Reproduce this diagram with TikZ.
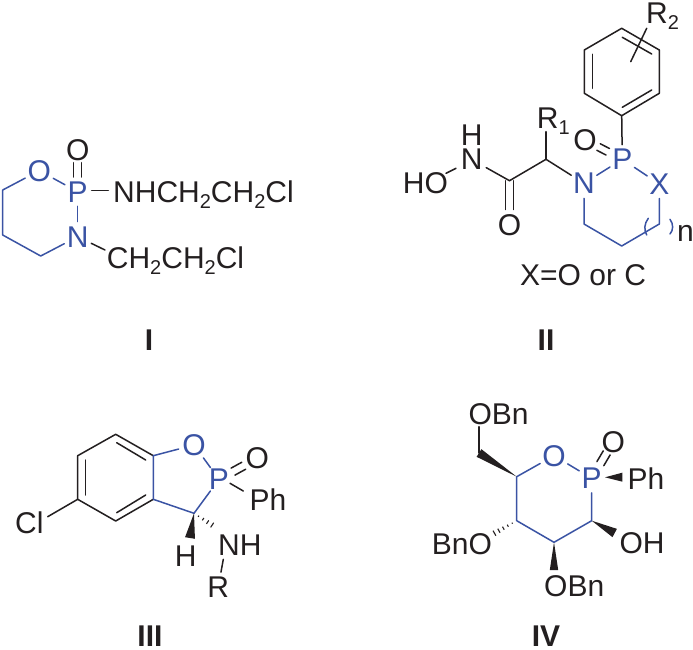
\documentclass[tikz,border=0pt]{standalone}
\usepackage{fontspec}
\setmainfont{Liberation Sans}
\usetikzlibrary{calc}
\definecolor{ringblue}{HTML}{3A53A4}
\definecolor{ink}{HTML}{231F20}
\newcommand{\sbs}[1]{\raisebox{-6pt}{\fontsize{20}{20}\selectfont #1}}
\newcommand{\dblbond}[5]{%
  \draw[bond,shorten <=#4,shorten >=#5] ($(#1)!#3!90:(#2)$) -- ($(#2)!#3!-90:(#1)$);
  \draw[bond,shorten <=#4,shorten >=#5] ($(#1)!#3!-90:(#2)$) -- ($(#2)!#3!90:(#1)$);}
\newcommand{\wedgebond}[3]{%
  \fill[ink] (#1) -- ($(#2)!#3!90:(#1)$) -- ($(#2)!#3!-90:(#1)$) -- cycle;}
\newcommand{\hashbond}[4]{%
  \foreach \i in {1,...,#4}{%
    \pgfmathsetmacro{\t}{\i/#4}%
    \pgfmathsetmacro{\hw}{#3*\t}%
    \draw[ink,line width=1.1pt] ($(#1)!\t!(#2)!\hw pt!90:(#2)$) -- ($(#1)!\t!(#2)!\hw pt!-90:(#2)$);}}
\tikzset{
  bond/.style={ink,line width=1.5pt,line cap=round,line join=round},
  rbond/.style={ringblue,line width=1.5pt,line cap=round,line join=round},
  chem/.style={font=\fontsize{30}{30}\selectfont,text=ink},
  atom/.style={chem,circle,inner sep=0pt},
  ratom/.style={atom,text=ringblue},
  ratm/.style={chem,rectangle,inner sep=0pt},
  txt/.style={chem,anchor=base west,inner sep=0pt},
  lab/.style={font=\fontsize{30}{30}\selectfont\bfseries,text=ink,inner sep=0pt,anchor=base},
}
\begin{document}
\begin{tikzpicture}[x=1pt,y=-1pt]
\useasboundingbox (0,0) rectangle (693,650);
\fill[white] (0,0) rectangle (693,650);

%%% I
\node[ratom] (Io) at (39.3,170.7) {O};
\node[ratom] (Ip) at (77.7,191.7) {P};
\node[ratom] (In) at (77.7,236.7) {N};
\node[atom] (Ido) at (77.7,150) {O};
\node[txt] (Inh) at (113,202.7) {NHCH\sbs{2}CH\sbs{2}Cl};
\node[txt] (Ich) at (106.7,268) {CH\sbs{2}CH\sbs{2}Cl};
\coordinate (Ia) at (2.7,190);
\coordinate (Ib) at (2.7,235);
\coordinate (Ic) at (40.7,256);
\draw[rbond] (Io) -- (Ia) -- (Ib) -- (Ic) -- (In);
\draw[rbond] (Io) -- (Ip);
\draw[rbond] (Ip) -- (In);
\dblbond{Ido}{Ip}{4pt}{12.7pt}{14.7pt}
\draw[bond] ([shift={(-21.3,-12)}]Inh.base west) -- ([shift={(-4.7,-12)}]Inh.base west);
\draw[bond] (In) -- ([shift={(-1.7,-18)}]Ich.base west);
\node[lab] (Ilab) at (149,350) {I};

%%% II
\coordinate (b1) at (621.7,28.3);
\coordinate (b2) at (659.3,50);
\coordinate (b3) at (659.3,93.3);
\coordinate (b4) at (621.7,115.7);
\coordinate (b5) at (584.3,93.3);
\coordinate (b6) at (584.3,50);
\draw[bond] (b1) -- (b2) -- (b3) -- (b4) -- (b5) -- (b6) -- cycle;
\coordinate (i1) at (592.3,54.3);
\coordinate (i2) at (592.3,88.3);
\coordinate (i3) at (622.3,37.3);
\coordinate (i4) at (651.7,54);
\coordinate (i5) at (622.3,107.3);
\coordinate (i6) at (651.7,90);
\draw[bond] (i1) -- (i2);
\draw[bond] (i3) -- (i4);
\draw[bond] (i5) -- (i6);
\node[txt] (R2) at (646,23.3) {R\sbs{2}};
\coordinate (r2e) at (630.7,61.7);
\draw[bond] ([shift={(0.7,5)}]R2.base west) -- (r2e);
\node[ratom] (IIp) at (622.3,159.3) {P};
\node[ratom] (IIn) at (584,183.3) {N};
\node[ratom] (IIx) at (659.3,184) {X};
\node[atom] (IIo) at (585,140) {O};
\draw[bond] (b4) -- (IIp);
\dblbond{IIo}{IIp}{3.7pt}{15.3pt}{16.4pt}
\coordinate (c1) at (659.3,224);
\coordinate (c2) at (621.7,246);
\coordinate (c3) at (584,224);
\draw[rbond] (IIn) -- (IIp);
\draw[rbond] (IIp) -- (IIx);
\draw[rbond] (IIx) -- (c1) -- (c2) -- (c3) -- (IIn);
\coordinate (ch) at (546,159.3);
\coordinate (co) at (509.5,180.7);
\node[txt] (R1) at (536.7,128.3) {R\sbs{1}};
\node[ratm] (IIn2) at (471.7,159.5) {N};
\node[ratm] (IIh) at (471.7,135) {H};
\node[atom] (IIdo) at (509.5,225) {O};
\node[txt] (IIho) at (402.7,193.3) {HO};
\draw[bond] (IIn) -- (ch);
\draw[bond] (ch) -- ([shift={(9.3,3.4)}]R1.base west);
\draw[bond] (ch) -- (co);
\draw[bond,shorten >=4pt] (co) -- (IIn2);
\draw[bond] ([shift={(43.3,-20)}]IIho.base west) -- ([shift={(53.3,-25)}]IIho.base west);
\dblbond{co}{IIdo}{4pt}{0pt}{15.5pt}
\draw[rbond] (648.3,218.3) .. controls (644,224) and (644,230) .. (646.7,235);
\draw[rbond] (670,219.3) .. controls (673.5,224) and (673.5,230) .. (670,234);
\node[txt] (nsub) at (677,241.7) {n};
\node[txt] (xeq) at (520,285) {X=O or C};
\node[lab] (IIlab) at (546,350) {II};

%%% III
\coordinate (a1) at (115.7,434.3);
\coordinate (a2) at (77.7,455.7);
\coordinate (a3) at (77.7,499.3);
\coordinate (a4) at (115.7,521);
\coordinate (a5) at (153.3,499.3);
\coordinate (a6) at (153.3,455.7);
\draw[bond] (a6) -- (a1) -- (a2) -- (a3) -- (a4) -- (a5);
\coordinate (j1) at (85.7,460);
\coordinate (j2) at (85.7,495);
\coordinate (j3) at (116.7,442.7);
\coordinate (j4) at (145.7,460);
\coordinate (j5) at (116.7,512.7);
\coordinate (j6) at (145.7,495);
\draw[bond] (j1) -- (j2);
\draw[bond] (j3) -- (j4);
\draw[bond] (j5) -- (j6);
\node[ratom] (IIIo) at (194,445) {O};
\node[ratom] (IIIp) at (219,479.3) {P};
\node[atom] (IIIdo) at (257.3,458.3) {O};
\coordinate (c3a) at (194,513.3);
\draw[rbond] (a5) -- (a6) -- (IIIo) -- (IIIp) -- (c3a) -- (a5);
\dblbond{IIIp}{IIIdo}{4pt}{16pt}{15.5pt}
\node[txt] (IIIph) at (249.3,510.7) {Ph};
\draw[bond] ([shift={(-19.3,-27.4)}]IIIph.base west) -- ([shift={(-6,-19.7)}]IIIph.base west);
\node[txt] (IIIcl) at (15,533.3) {Cl};
\draw[bond] ([shift={(32.7,-16.6)}]IIIcl.base west) -- (a3);
\node[atom] (IIIh) at (185.7,556.5) {H};
\coordinate (wi) at (190,538);
\wedgebond{c3a}{wi}{5pt}
\node[txt] (IIInh) at (218,555) {NH};
\coordinate (hi) at (216.7,528);
\hashbond{c3a}{hi}{3.5}{5}
\node[atom] (IIIr) at (218.3,587) {R};
\draw[bond] ([shift={(5.3,4.3)}]IIInh.base west) -- (IIIr);
\node[lab] (IIIlab) at (150,646) {III};

%%% IV
\node[txt] (IVobn1) at (468.3,424.3) {OBn};
\coordinate (w1) at (479,453);
\coordinate (c5) at (516.7,476.7);
\coordinate (c4) at (516.7,520.7);
\coordinate (c3b) at (554,542.3);
\coordinate (c2b) at (591.7,520.7);
\node[ratom] (IVo) at (554,455.7) {O};
\node[ratom] (IVp) at (591.7,478.3) {P};
\node[atom] (IVdo) at (613.3,441.7) {O};
\draw[rbond] (c5) -- (IVo) -- (IVp) -- (c2b) -- (c3b) -- (c4) -- (c5);
\draw[bond] ([shift={(10.7,2.4)}]IVobn1.base west) -- (w1);
\wedgebond{c5}{w1}{4.5pt}
\dblbond{IVp}{IVdo}{4pt}{17pt}{13pt}
\node[txt] (IVph) at (627.3,489.3) {Ph};
\coordinate (w2) at (622.3,477.2);
\coordinate (w2s) at (605,477.3);
\wedgebond{w2s}{w2}{4.5pt}
\node[txt] (IVoh) at (619.3,553.3) {OH};
\coordinate (w3) at (614.7,533);
\wedgebond{c2b}{w3}{4.7pt}
\node[txt] (IVobn2) at (544,596.7) {OBn};
\coordinate (w4) at (554,570);
\wedgebond{c3b}{w4}{4.2pt}
\node[txt] (IVbno) at (431.7,554) {BnO};
\coordinate (h2) at (490,535.7);
\hashbond{c4}{h2}{3.5}{6}
\node[lab] (IVlab) at (546,646) {IV};
\end{tikzpicture}
\end{document}
